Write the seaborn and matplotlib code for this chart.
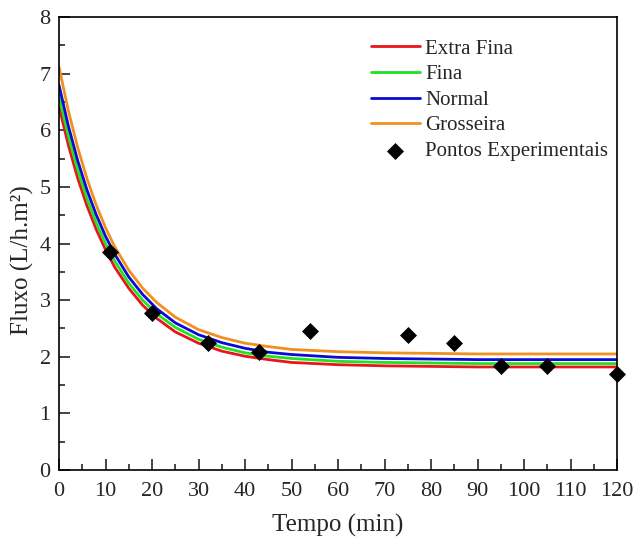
import numpy as np
import pandas as pd
import seaborn as sns
import matplotlib.pyplot as plt
from matplotlib.ticker import MultipleLocator

# curve values
tempo = [0, 2, 4, 6, 8, 10, 12, 15, 18, 21, 25, 30, 35, 40, 45, 50, 60, 70, 80, 90, 100, 110, 120]
extra_fina = [6.42, 5.74, 5.16, 4.67, 4.25, 3.89, 3.58, 3.21, 2.91, 2.68, 2.44, 2.24, 2.10, 2.01,
              1.95, 1.90, 1.86, 1.84, 1.83, 1.82, 1.82, 1.82, 1.82]
fina = [6.60, 5.90, 5.31, 4.80, 4.37, 4.00, 3.69, 3.30, 3.00, 2.76, 2.52, 2.31, 2.17, 2.07,
        2.01, 1.97, 1.92, 1.90, 1.89, 1.88, 1.88, 1.88, 1.88]
normal = [6.80, 6.08, 5.47, 4.95, 4.51, 4.13, 3.81, 3.41, 3.10, 2.85, 2.60, 2.39, 2.25, 2.15,
          2.08, 2.04, 1.99, 1.97, 1.96, 1.95, 1.95, 1.95, 1.95]
grosseira = [7.12, 6.35, 5.70, 5.15, 4.68, 4.28, 3.94, 3.53, 3.21, 2.96, 2.70, 2.48, 2.34, 2.24,
             2.18, 2.13, 2.09, 2.07, 2.06, 2.05, 2.05, 2.05, 2.05]

# experimental points
t_exp = [11, 20, 32, 43, 54, 75, 85, 95, 105, 120]
fluxo_exp = [3.86, 2.77, 2.24, 2.08, 2.46, 2.38, 2.24, 1.84, 1.84, 1.70]

series = {
    "Extra Fina": (extra_fina, "#e8161c"),
    "Fina": (fina, "#22e022"),
    "Normal": (normal, "#0a0ad2"),
    "Grosseira": (grosseira, "#f0901e"),
}

sns.set_style("ticks")
plt.rcParams['font.family'] = ['Liberation Serif', 'DejaVu Serif']

fig = plt.figure(figsize=(6.36, 5.37), dpi=100)
ax = fig.add_axes([0.0928, 0.1248, 0.8774, 0.8432])

for name, (vals, col) in series.items():
    df = pd.DataFrame({"t": tempo, "y": vals})
    sns.lineplot(data=df, x="t", y="y", color=col, linewidth=2.0, label=name, ax=ax)

sns.scatterplot(x=t_exp, y=fluxo_exp, marker="D", color="black", s=75, edgecolor="black",
                linewidth=0, label="Pontos Experimentais", ax=ax, zorder=5, clip_on=False)

ax.set_xlim(0, 120)
ax.set_ylim(0, 8)
ax.xaxis.set_major_locator(MultipleLocator(10))
ax.xaxis.set_minor_locator(MultipleLocator(5))
ax.yaxis.set_major_locator(MultipleLocator(1))
ax.yaxis.set_minor_locator(MultipleLocator(0.5))
ax.tick_params(which="major", direction="in", length=8, width=1.2, labelsize=16, pad=6,
               top=False, right=False)
ax.tick_params(axis="x", which="major", pad=9)
ax.tick_params(which="minor", direction="in", length=4.5, width=1.2, top=False, right=False)
for sp in ax.spines.values():
    sp.set_linewidth(1.2)
    sp.set_color("black")

ax.set_xlabel("Tempo (min)", fontsize=18, labelpad=9)
ax.set_ylabel("Fluxo (L/h.m²)", fontsize=18, labelpad=4)
ax.yaxis.label.set_y(0.464)

leg = ax.legend(loc="upper right", bbox_to_anchor=(1.01, 0.984), frameon=False, fontsize=15,
                handlelength=2.35, handletextpad=0.25, labelspacing=0.29, borderaxespad=0.3)

fig.savefig("out.png", dpi=100)
